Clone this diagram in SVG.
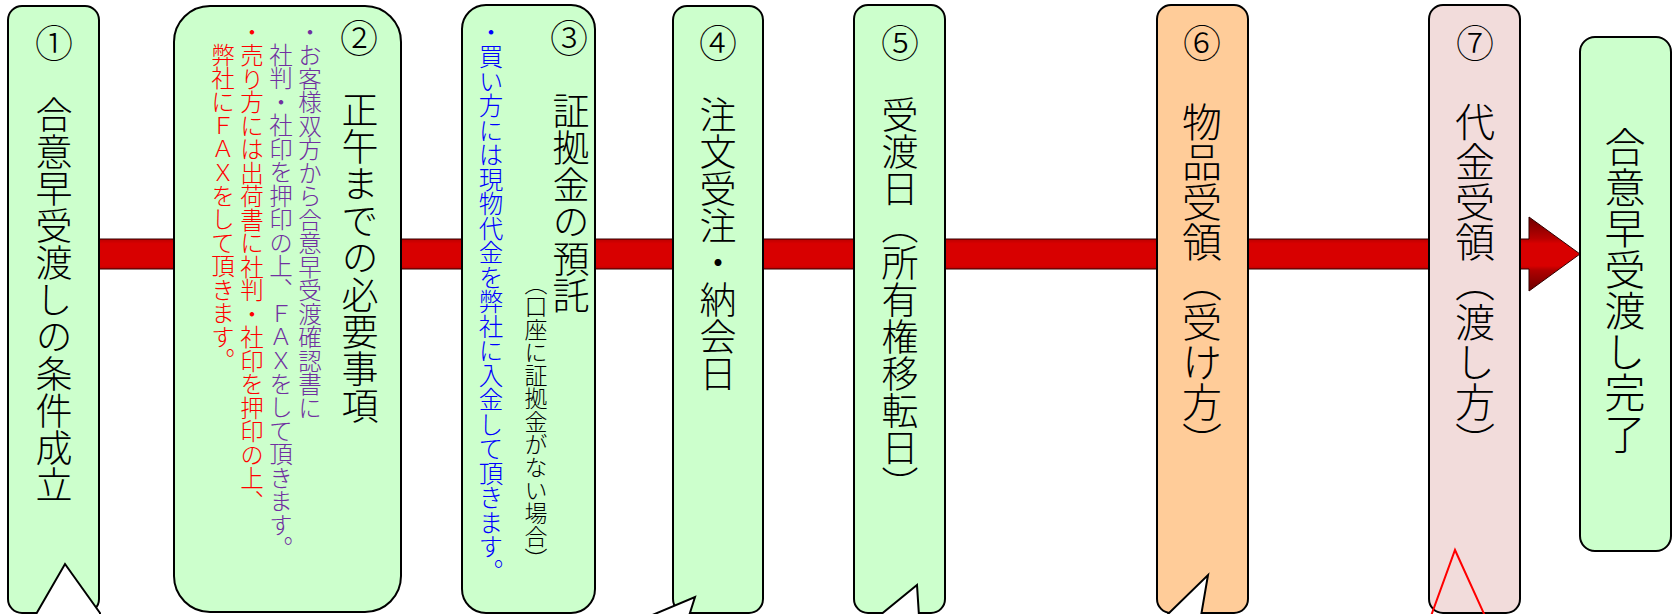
<svg xmlns="http://www.w3.org/2000/svg" width="1680" height="614" viewBox="0 0 1680 614">
<defs>
<linearGradient id="redg" x1="0" y1="0" x2="0" y2="1">
<stop offset="0" stop-color="#6e0000"/>
<stop offset="0.29" stop-color="#b80000"/>
<stop offset="0.36" stop-color="#d80000"/>
<stop offset="0.66" stop-color="#d80000"/>
<stop offset="0.72" stop-color="#b00000"/>
<stop offset="1" stop-color="#6a0000"/>
</linearGradient>
<style>
.box{stroke:#000;stroke-width:2}
.g{fill:#ccffcc}
.o{fill:#ffcc99}
.p{fill:#f2dcdb}
.notch{fill:#fff;stroke:#000;stroke-width:2;stroke-linejoin:miter}
.rnotch{fill:none;stroke:#ff0000;stroke-width:2}
text{font-family:"Noto Sans CJK JP","Noto Sans CJK SC",sans-serif;font-weight:300}
.v{writing-mode:vertical-rl}
.num{font-size:38px;text-anchor:middle}
.t37{font-size:37px}
.t40{font-size:40px}
.t41{font-size:41px}
.s{font-size:23.5px}
.sb{font-size:24.5px}
.ss{font-size:23px}
.pur{fill:#7030a0}
.red{fill:#ff0000}
.blu{fill:#0000ff}
</style>
</defs>
<g id="connectors">
<path d="M99,239 H1529 V217 L1580,254 L1529,291 V269 H99 Z" fill="url(#redg)" stroke="#300000" stroke-width="1"/>
</g>
<g id="node1">
<rect class="box g" x="8" y="6" width="91" height="607" rx="14"/>
<polyline class="notch" points="35,616 65,564 100,613 100,616"/>
<text class="num" x="54" y="57">①</text>
<text class="v t37" x="54" y="96">合意早受渡しの条件成立</text>
</g>
<g id="node2">
<rect class="box g" x="174" y="6" width="227" height="606" rx="36"/>
<text class="num" x="359" y="52">②</text>
<text class="v t37" x="360" y="91">正午までの必要事項</text>
<text class="v s pur" x="310" y="20">・お客様双方から合意早受渡確認書に</text>
<text class="v s pur" x="281" y="43">社判・社印を押印の上、ＦＡＸをして頂きます。</text>
<text class="v s red" x="252" y="20">・売り方には出荷書に社判・社印を押印の上、</text>
<text class="v s red" x="223" y="43">弊社にＦＡＸをして頂きます。</text>
</g>
<g id="node3">
<rect class="box g" x="462" y="5" width="133" height="608" rx="24"/>
<text class="num" x="569" y="52">③</text>
<text class="v t37" x="571" y="92">証拠金の預託</text>
<text class="v ss" x="536" y="272">（口座に証拠金がない場合）</text>
<text class="v sb blu" x="491" y="20">・買い方には現物代金を弊社に入金して頂きます。</text>
</g>
<g id="node4">
<rect class="box g" x="673" y="6" width="90" height="607" rx="14"/>
<polyline class="notch" points="650,616 695,597 689,616"/>
<text class="num" x="718" y="57">④</text>
<text class="v t37" x="718" y="96">注文受注・納会日</text>
</g>
<g id="node5">
<rect class="box g" x="854" y="5" width="91" height="608" rx="14"/>
<polyline class="notch" points="879,616 917,585 919,616"/>
<text class="num" x="900" y="57">⑤</text>
<text class="v t37" x="900" y="96">受渡日（所有権移転日）</text>
</g>
<g id="node6">
<rect class="box o" x="1157" y="5" width="91" height="608" rx="14"/>
<polyline class="notch" points="1166,616 1208,575 1201,616"/>
<text class="num" x="1202" y="57">⑥</text>
<text class="v t40" x="1202" y="102">物品受領（受け方）</text>
</g>
<g id="node7">
<rect class="box p" x="1429" y="5" width="91" height="608" rx="14"/>
<polyline class="rnotch" points="1431,616 1455,550 1485,616"/>
<text class="num" x="1475" y="57">⑦</text>
<text class="v t40" x="1475" y="102">代金受領（渡し方）</text>
</g>
<g id="node8">
<rect class="box g" x="1580" y="37" width="91" height="514" rx="15"/>
<text class="v t41" x="1625" y="126">合意早受渡し完了</text>
</g>
</svg>
